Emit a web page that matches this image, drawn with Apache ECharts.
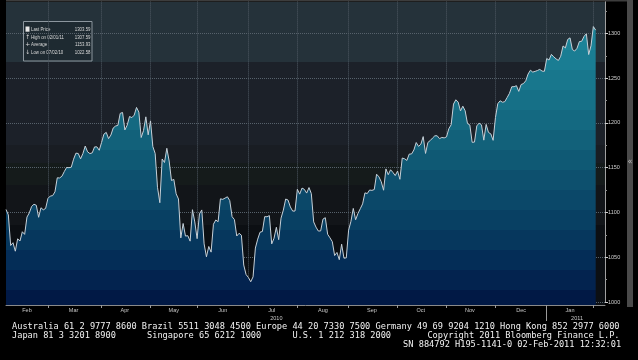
<!DOCTYPE html>
<html><head><meta charset="utf-8">
<script src="https://cdn.jsdelivr.net/npm/echarts@6/dist/echarts.min.js"></script>
<style>html,body{margin:0;padding:0;background:#000}#c{width:638px;height:360px}</style>
</head><body><div id="c"></div>
<script>
// ---- data ----
const dates = [
'2010-02-02','2010-02-03','2010-02-04','2010-02-05','2010-02-08','2010-02-09','2010-02-10','2010-02-11','2010-02-12','2010-02-16','2010-02-17','2010-02-18','2010-02-19','2010-02-22','2010-02-23','2010-02-24','2010-02-25','2010-02-26',
'2010-03-01','2010-03-02','2010-03-03','2010-03-04','2010-03-05','2010-03-08','2010-03-09','2010-03-10','2010-03-11','2010-03-12','2010-03-15','2010-03-16','2010-03-17','2010-03-18','2010-03-19','2010-03-22','2010-03-23','2010-03-24','2010-03-25','2010-03-26','2010-03-29','2010-03-30','2010-03-31',
'2010-04-01','2010-04-05','2010-04-06','2010-04-07','2010-04-08','2010-04-09','2010-04-12','2010-04-13','2010-04-14','2010-04-15','2010-04-16','2010-04-19','2010-04-20','2010-04-21','2010-04-22','2010-04-23','2010-04-26','2010-04-27','2010-04-28','2010-04-29','2010-04-30',
'2010-05-03','2010-05-04','2010-05-05','2010-05-06','2010-05-07','2010-05-10','2010-05-11','2010-05-12','2010-05-13','2010-05-14','2010-05-17','2010-05-18','2010-05-19','2010-05-20','2010-05-21','2010-05-24','2010-05-25','2010-05-26','2010-05-27','2010-05-28',
'2010-06-01','2010-06-02','2010-06-03','2010-06-04','2010-06-07','2010-06-08','2010-06-09','2010-06-10','2010-06-11','2010-06-14','2010-06-15','2010-06-16','2010-06-17','2010-06-18','2010-06-21','2010-06-22','2010-06-23','2010-06-24','2010-06-25','2010-06-28','2010-06-29','2010-06-30',
'2010-07-01','2010-07-02','2010-07-06','2010-07-07','2010-07-08','2010-07-09','2010-07-12','2010-07-13','2010-07-14','2010-07-15','2010-07-16','2010-07-19','2010-07-20','2010-07-21','2010-07-22','2010-07-23','2010-07-26','2010-07-27','2010-07-28','2010-07-29','2010-07-30',
'2010-08-02','2010-08-03','2010-08-04','2010-08-05','2010-08-06','2010-08-09','2010-08-10','2010-08-11','2010-08-12','2010-08-13','2010-08-16','2010-08-17','2010-08-18','2010-08-19','2010-08-20','2010-08-23','2010-08-24','2010-08-25','2010-08-26','2010-08-27','2010-08-30','2010-08-31',
'2010-09-01','2010-09-02','2010-09-03','2010-09-07','2010-09-08','2010-09-09','2010-09-10','2010-09-13','2010-09-14','2010-09-15','2010-09-16','2010-09-17','2010-09-20','2010-09-21','2010-09-22','2010-09-23','2010-09-24','2010-09-27','2010-09-28','2010-09-29','2010-09-30',
'2010-10-01','2010-10-04','2010-10-05','2010-10-06','2010-10-07','2010-10-08','2010-10-11','2010-10-12','2010-10-13','2010-10-14','2010-10-15','2010-10-18','2010-10-19','2010-10-20','2010-10-21','2010-10-22','2010-10-25','2010-10-26','2010-10-27','2010-10-28','2010-10-29',
'2010-11-01','2010-11-02','2010-11-03','2010-11-04','2010-11-05','2010-11-08','2010-11-09','2010-11-10','2010-11-11','2010-11-12','2010-11-15','2010-11-16','2010-11-17','2010-11-18','2010-11-19','2010-11-22','2010-11-23','2010-11-24','2010-11-26','2010-11-29','2010-11-30',
'2010-12-01','2010-12-02','2010-12-03','2010-12-06','2010-12-07','2010-12-08','2010-12-09','2010-12-10','2010-12-13','2010-12-14','2010-12-15','2010-12-16','2010-12-17','2010-12-20','2010-12-21','2010-12-22','2010-12-23','2010-12-27','2010-12-28','2010-12-29','2010-12-30','2010-12-31',
'2011-01-03','2011-01-04','2011-01-05','2011-01-06','2011-01-07','2011-01-10','2011-01-11','2011-01-12','2011-01-13','2011-01-14','2011-01-18','2011-01-19','2011-01-20','2011-01-21','2011-01-24','2011-01-25','2011-01-26','2011-01-27','2011-01-28','2011-01-31',
'2011-02-01','2011-02-02'
];
const padDates = ['2011-02-03','2011-02-04','2011-02-07','2011-02-08'];
const closes = [
1103.32,1097.28,1063.11,1066.19,1056.74,1070.52,1068.13,1078.47,1075.51,1094.87,1099.51,1106.75,1109.17,1108.01,1094.60,1105.24,1102.94,1104.49,
1115.71,1118.31,1118.79,1122.97,1138.70,1138.50,1140.45,1145.61,1150.24,1149.99,1150.51,1159.46,1166.21,1165.83,1159.90,1165.81,1174.17,1167.72,1165.73,1166.59,1173.22,1173.27,1169.43,
1178.10,1187.44,1189.44,1182.45,1186.44,1194.37,1196.48,1197.30,1210.65,1211.67,1192.13,1197.52,1207.17,1205.94,1208.67,1217.28,1212.05,1183.71,1191.36,1206.78,1186.69,
1202.26,1173.60,1165.87,1128.15,1110.88,1159.73,1155.79,1171.67,1157.44,1135.68,1136.94,1120.80,1115.05,1071.59,1087.69,1073.65,1074.03,1067.95,1103.06,1089.41,
1070.71,1098.38,1102.83,1064.88,1050.47,1062.00,1055.69,1086.84,1091.60,1089.63,1115.23,1114.61,1116.04,1117.51,1113.20,1095.31,1092.04,1073.69,1076.76,1074.57,1041.24,1030.71,
1027.37,1022.58,1028.06,1060.27,1070.25,1077.96,1078.75,1095.34,1095.17,1096.48,1064.88,1071.25,1083.48,1069.59,1093.67,1102.66,1115.01,1113.84,1106.13,1101.53,1101.60,
1125.86,1120.46,1127.24,1125.81,1121.64,1127.79,1121.06,1089.47,1083.61,1079.25,1079.38,1092.54,1094.16,1075.63,1071.69,1067.36,1051.87,1055.33,1047.22,1064.59,1048.92,1049.33,
1080.29,1090.10,1104.51,1091.84,1098.87,1104.18,1109.55,1121.90,1121.10,1125.07,1124.66,1125.59,1142.71,1139.78,1134.28,1124.83,1148.67,1142.16,1147.70,1144.73,1141.20,
1146.24,1137.03,1160.75,1159.97,1158.06,1165.15,1165.32,1169.77,1178.10,1173.81,1176.19,1184.71,1165.90,1178.17,1180.26,1183.08,1185.62,1185.64,1182.45,1183.78,1183.26,
1184.38,1193.57,1197.96,1221.06,1225.85,1223.25,1213.40,1218.71,1213.54,1199.21,1197.75,1178.34,1178.59,1196.69,1199.73,1197.84,1180.73,1198.35,1189.40,1187.76,1180.55,
1206.07,1221.53,1224.71,1223.12,1223.75,1228.28,1233.00,1240.40,1240.46,1241.59,1235.23,1242.87,1243.91,1247.08,1254.60,1258.84,1256.77,1257.54,1258.51,1259.78,1257.88,1257.64,
1271.87,1270.20,1276.56,1273.85,1271.50,1269.75,1274.48,1285.96,1283.76,1293.24,1295.02,1281.92,1280.26,1283.35,1290.84,1291.18,1296.63,1299.54,1276.34,1286.12,
1307.59,1303.59
];
const monthNames = ['Jan','Feb','Mar','Apr','May','Jun','Jul','Aug','Sep','Oct','Nov','Dec'];
const yTicks = [1000, 1350, 50]; // min, max, step
const lastPrice = 1303.59;
const legendLabels = ['Last Price','High on 02/01/11','Average','Low on 07/02/10'];
const legendValues = ['1303.59','1307.59','1153.93','1022.58'];
const legendIcons = ['', '\u2191', '+', '\u2193'];
const footerLines = [
'Australia 61 2 9777 8600 Brazil 5511 3048 4500 Europe 44 20 7330 7500 Germany 49 69 9204 1210 Hong Kong 852 2977 6000',
'Japan 81 3 3201 8900      Singapore 65 6212 1000      U.S. 1 212 318 2000       Copyright 2011 Bloomberg Finance L.P.',
'SN 884792 H195-1141-0 02-Feb-2011 12:32:01'
];

// ---- helpers ----
const cats = dates.concat(padDates);
const mFirst = {}, mLast = {}, yFirst = {}, yLast = {};
cats.forEach((d, i) => {
  const m = d.slice(0, 7), y = d.slice(0, 4);
  if (!(m in mFirst)) mFirst[m] = i; mLast[m] = i;
  if (!(y in yFirst)) yFirst[y] = i; yLast[y] = i;
});
const monthStart = new Set(Object.values(mFirst).filter(i => i > 0));
const monthLabel = new Set(Object.keys(mFirst).filter(k => mLast[k] - mFirst[k] >= 9).map(k => Math.round((mFirst[k] + mLast[k]) / 2)));
const yearStart = new Set(Object.values(yFirst).filter(i => i > 0));
const yearLabel = new Set(Object.keys(yFirst).map(k => Math.round((yFirst[k] + yLast[k]) / 2)));

function bands(list, y0, h) {
  const stops = [];
  list.forEach(b => {
    stops.push({offset: Math.max(0, Math.min(1, (b[0] - y0) / h)), color: b[2]});
    stops.push({offset: Math.max(0, Math.min(1, (b[1] - y0) / h)), color: b[2]});
  });
  return stops;
}
const fillBands = [
 [0,30,'#1d889c'],[30,50,'#1c8398'],[50,70,'#1a7d93'],[70,90,'#18778d'],[90,110,'#167087'],
 [110,130,'#146981'],[130,150,'#12617a'],[150,170,'#0f5974'],[170,190,'#0d506e'],[190,210,'#0b4869'],
 [210,230,'#084063'],[230,250,'#06375d'],[250,270,'#042d57'],[270,290,'#03234f'],[290,306,'#011945']
];
const bgBands = [
 [2,62,'#25323a'],[62,145,'#1c2129'],[145,163,'#191d23'],[163,185,'#151b1b'],[185,225,'#121519'],[225,305,'#0c0f13']
];
const fillGrad = new echarts.graphic.LinearGradient(0, 0, 0, 306, bands(fillBands, 0, 306), true);
const bgGrad = {type: 'linear', x: 0, y: 0, x2: 0, y2: 1, colorStops: bands(bgBands, 2, 303)};

const FNT = '"Liberation Sans",sans-serif';
const MONO = '8.65px "DejaVu Sans Mono",monospace';
const LFONT = '5.6px ' + FNT;

const legendEls = [{type: 'rect', shape: {x: 23.5, y: 21.5, width: 68.5, height: 39.5},
  style: {fill: '#1e2a31', stroke: '#8c969e', lineWidth: 1}}];
legendLabels.forEach((t, i) => {
  const y = 29.3 + i * 7.8;
  if (i === 0) legendEls.push({type: 'rect', shape: {x: 25.5, y: y - 2.8, width: 4, height: 5.2}, style: {fill: '#e8e8e8'}});
  else legendEls.push({type: 'text', x: 27.7, y: y, style: {text: legendIcons[i], fill: '#d8d8d8', font: '6px "DejaVu Sans",sans-serif', align: 'center', verticalAlign: 'middle'}});
  legendEls.push({type: 'text', x: 31, y: y, scaleX: 0.78, style: {text: t, fill: '#d8d8d8', font: LFONT, align: 'left', verticalAlign: 'middle'}});
  legendEls.push({type: 'text', x: 90.5, y: y, scaleX: 0.78, style: {text: legendValues[i], fill: '#d8d8d8', font: LFONT, align: 'right', verticalAlign: 'middle'}});
});

const footerEls = [
  {type: 'text', x: 12, y: 326.7, style: {text: footerLines[0], fill: '#f2f2f2', font: MONO, align: 'left', verticalAlign: 'middle'}},
  {type: 'text', x: 12, y: 335.6, style: {text: footerLines[1], fill: '#f2f2f2', font: MONO, align: 'left', verticalAlign: 'middle'}},
  {type: 'text', x: 621.2, y: 344.4, style: {text: footerLines[2], fill: '#f2f2f2', font: MONO, align: 'right', verticalAlign: 'middle'}}
];

const chart = echarts.init(document.getElementById('c'), null, {renderer: 'canvas'});
chart.setOption({
  backgroundColor: '#000',
  animation: false,
  grid: {left: 6, right: 33, top: -11.4, bottom: 58, containLabel: false, outerBoundsMode: 'none', show: false},
  xAxis: [{
    type: 'category', data: cats, boundaryGap: false, position: 'bottom', offset: 3,
    axisLine: {show: true, lineStyle: {color: '#8a8a8a', width: 1}},
    axisTick: {show: true, interval: (i) => monthStart.has(i), length: 3, lineStyle: {color: '#9a9a9a'}},
    axisLabel: {show: true, interval: (i) => monthLabel.has(i), formatter: (v) => monthNames[+v.slice(5, 7) - 1],
      fontSize: 5.5, color: '#c8c8c8', margin: 2, fontFamily: FNT, hideOverlap: false},
    splitLine: {show: true, interval: (i) => monthStart.has(i), lineStyle: {color: '#4e5963', type: 'dotted', width: 1}}
  }, {
    type: 'category', data: cats, boundaryGap: false, position: 'bottom', offset: 3,
    axisLine: {show: false},
    axisTick: {show: true, interval: (i) => yearStart.has(i), length: 16, lineStyle: {color: '#9a9a9a'}},
    axisLabel: {show: true, interval: (i) => yearLabel.has(i), formatter: (v) => v.slice(0, 4),
      fontSize: 5.5, color: '#c8c8c8', margin: 10, fontFamily: FNT, hideOverlap: false},
    splitLine: {show: false}
  }],
  yAxis: {
    type: 'value', position: 'right', min: yTicks[0], max: yTicks[1], interval: yTicks[2],
    axisLine: {show: true, lineStyle: {color: '#a0a0a0', width: 1}},
    axisTick: {show: true, length: 3, lineStyle: {color: '#d0d0d0'}},
    minorTick: {show: true, splitNumber: 2, length: 2, lineStyle: {color: '#909090'}},
    axisLabel: {fontSize: 5.5, color: '#d0d0d0', margin: 3, fontFamily: FNT, formatter: (v) => String(v)},
    splitLine: {show: true, lineStyle: {color: '#56616b', type: 'dotted', width: 1}}
  },
  series: [{
    type: 'line', data: closes, xAxisIndex: 0, yAxisIndex: 0,
    showSymbol: false, symbol: 'none', clip: false, z: 3,
    lineStyle: {color: '#c6d0d8', width: 1},
    areaStyle: {origin: 996.65, color: fillGrad, opacity: 1},
    markLine: {
      silent: true, symbol: 'none', data: [{yAxis: lastPrice}],
      lineStyle: {opacity: 0},
      label: {show: true, position: 'end', distance: 1, formatter: () => lastPrice.toFixed(2),
        backgroundColor: '#f0f0f0', color: '#000', fontSize: 5.5, fontFamily: FNT, padding: [1, 1, 0, 1]}
    }
  }],
  graphic: [
    {type: 'rect', z: -10, silent: true, shape: {x: 6, y: 2, width: 599, height: 303}, style: {fill: bgGrad}},
    {type: 'rect', z: 10, silent: true, shape: {x: 6, y: 0, width: 621, height: 1.5}, style: {fill: '#3d3d3d'}},
    {type: 'rect', z: 10, silent: true, shape: {x: 627, y: 0, width: 6, height: 307}, style: {fill: '#4a4a4a'}},
    {type: 'text', z: 11, silent: true, x: 630, y: 162, style: {text: '\u00ab', fill: '#bdbdbd', font: '8px "DejaVu Sans",sans-serif', align: 'center', verticalAlign: 'middle'}},
    {type: 'group', z: 20, silent: true, children: legendEls},
    {type: 'group', z: 20, silent: true, children: footerEls}
  ]
});
</script></body></html>
